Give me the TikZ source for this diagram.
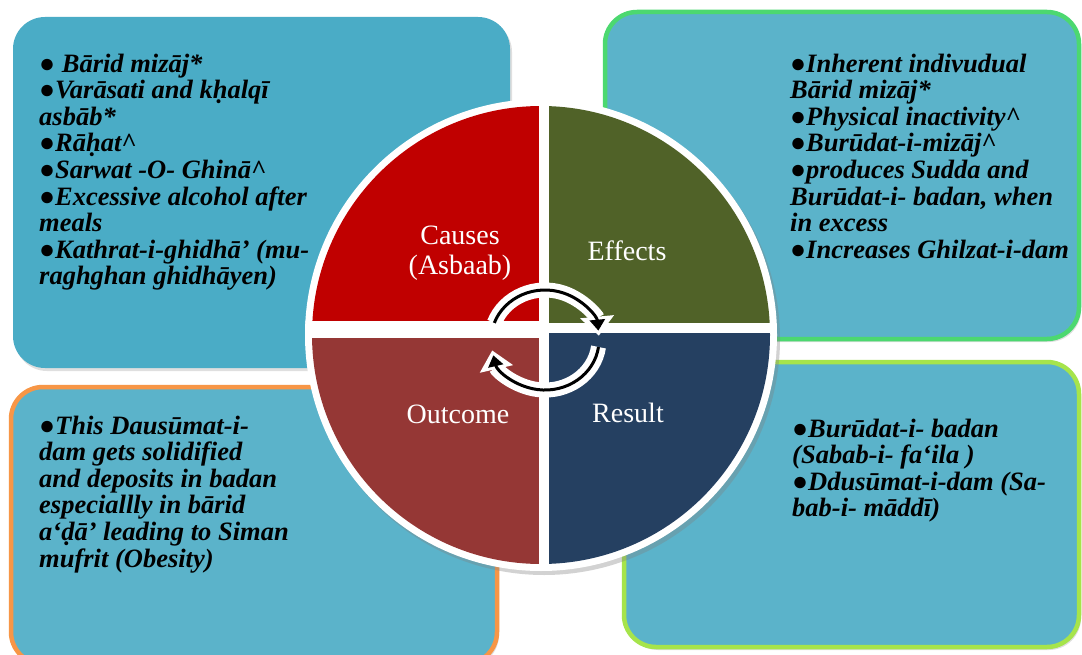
\documentclass[tikz,border=0pt]{standalone}
\usepackage{fontspec}
\setmainfont{Liberation Serif}
\usetikzlibrary{arrows.meta,shadows}
\definecolor{boxA}{RGB}{74,172,198}
\definecolor{boxB}{RGB}{91,179,202}
\definecolor{edgeGreen}{RGB}{76,216,112}
\definecolor{edgeLime}{RGB}{166,228,75}
\definecolor{edgeOrange}{RGB}{247,150,70}
\definecolor{qRed}{RGB}{192,0,0}
\definecolor{qOlive}{RGB}{80,98,40}
\definecolor{qBrown}{RGB}{149,55,53}
\definecolor{qNavy}{RGB}{37,64,97}
\tikzset{
  infobox/.style={rounded corners=32pt, drop shadow={opacity=0.25, shadow xshift=2pt, shadow yshift=-3pt}},
  boxtext/.style={anchor=base west, align=left, inner sep=0pt, text=black,
    font=\fontsize{26.5}{26.6}\selectfont\bfseries\itshape},
  quadlabel/.style={anchor=base, align=center, inner sep=0pt, text=white,
    font=\fontsize{28}{31}\selectfont},
  arrowout/.style={white, line width=15pt, -{Triangle[length=19pt,width=33pt]}},
  arrowin/.style={black, line width=3pt, shorten >=5pt, -{Triangle[length=11pt,width=15pt]}}
}
\begin{document}
\begin{tikzpicture}[x=1pt,y=-1pt]
\useasboundingbox (0,0) rectangle (1082,655);
\fill[white] (0,0) rectangle (1082,655);
\clip (0,0) rectangle (1082,655);

% boxes
\fill[boxA, infobox] (13,17) rectangle (510,368);
\draw[infobox, draw=edgeGreen, fill=boxB, line width=4.5pt] (605,12) rectangle (1079,339);
\draw[infobox, draw=edgeOrange, fill=boxB, line width=4.5pt] (11,387) rectangle (497,664);
\draw[infobox, draw=edgeLime, fill=boxB, line width=4.5pt] (624,362) rectangle (1079,647);

% box texts (anchor = baseline of last line)
\node[boxtext] (causesText) at (39,284.8) {● Bārid mizāj*\\●Varāsati and kḥalqī\\asbāb*\\●Rāḥat\textasciicircum\\●Sarwat -O- Ghinā\textasciicircum\\●Excessive alcohol after\\meals\\●Kathrat-i-ghidhā' (mu-\\raghghan ghidhāyen)};
\node[boxtext] (effectsText) at (790,258.2) {●Inherent indivudual\\Bārid mizāj*\\●Physical inactivity\textasciicircum\\●Burūdat-i-mizāj\textasciicircum\\●produces Sudda and\\Burūdat-i- badan, when\\in excess\\●Increases Ghilzat-i-dam};
\node[boxtext] (outcomeText) at (39,567) {●This Dausūmat-i-\\dam gets solidified\\and deposits in badan\\especiallly in bārid\\a‘ḍā’ leading to Siman\\mufrit (Obesity)};
\node[boxtext] (resultText) at (792,516.8) {●Burūdat-i- badan\\(Sabab-i- fa‘ila )\\●Ddusūmat-i-dam (Sa-\\bab-i- māddī)};

% circle
\coordinate (cc) at (541,335);
\fill[white, drop shadow={opacity=0.35, shadow xshift=3pt, shadow yshift=-4pt}] (cc) circle (236);
\begin{scope}
  \clip (cc) circle (229);
  \fill[qRed] (300,95) rectangle (544,329);
  \fill[qOlive] (544,95) rectangle (782,329);
  \fill[qBrown] (300,329) rectangle (544,576);
  \fill[qNavy] (544,329) rectangle (782,576);
\end{scope}
\begin{scope}
  \clip (cc) circle (236);
  \draw[white, line width=10pt] (544,95) -- (544,576);
  \draw[white, line width=17pt] (298,329) -- (544,329);
  \draw[white, line width=10pt] (544,328) -- (784,328);
\end{scope}

% quadrant labels
\node[quadlabel] (causes) at (460,275) {Causes\\(Asbaab)};
\node[quadlabel] (effects) at (627,261) {Effects};
\node[quadlabel] (outcome) at (458,423) {Outcome};
\node[quadlabel] (result) at (628,422) {Result};

% cycle arrows
\draw[arrowout] (494.3,322.9) arc[start angle=-160, end angle=-5, x radius=54, y radius=50];
\draw[arrowout] (598.5,347.0) arc[start angle=8, end angle=168, x radius=54, y radius=50];
\draw[arrowin] (494.3,322.9) arc[start angle=-160, end angle=-5, x radius=54, y radius=50];
\draw[arrowin] (598.5,347.0) arc[start angle=8, end angle=168, x radius=54, y radius=50];
\end{tikzpicture}
\end{document}
